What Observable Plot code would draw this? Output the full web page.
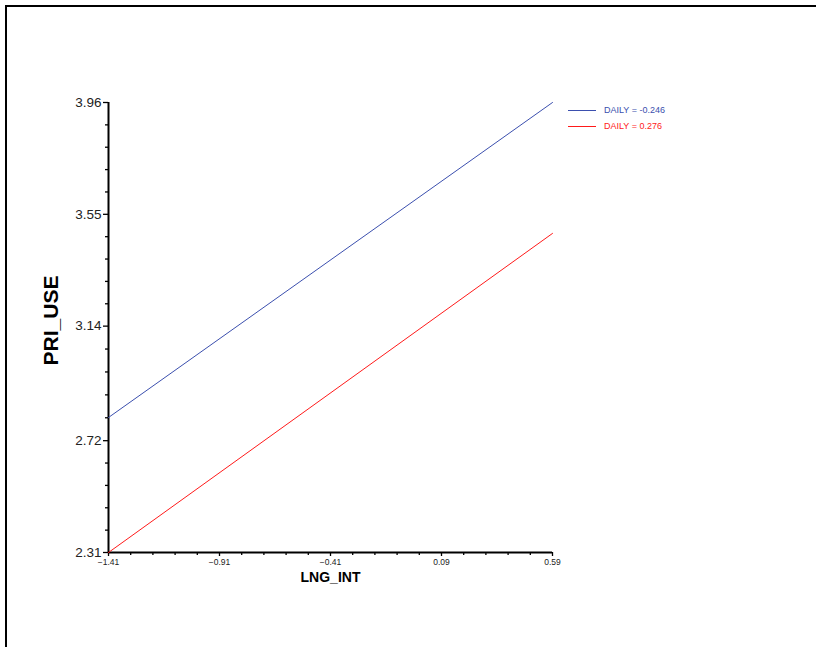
<!DOCTYPE html>
<html>
<head>
<meta charset="utf-8">
<script src="https://cdn.jsdelivr.net/npm/d3@7"></script>
<script src="https://cdn.jsdelivr.net/npm/@observablehq/plot@0.6"></script>
<style>
  html, body { margin: 0; padding: 0; background: #fff; font-family: "Liberation Sans", Arial, sans-serif; overflow: hidden; }
  #wrap { position: relative; width: 816px; height: 647px; overflow: hidden; }
  #frame { position: absolute; left: 5px; top: 5px; width: 900px; height: 700px;
           border-top: 2px solid #000; border-left: 2px solid #000; box-sizing: border-box; }
  #chart { position: absolute; left: 0; top: 0; }
  #legend { position: absolute; left: 568px; top: 102px; font-size: 9px; line-height: 16px; }
  #legend .row { display: flex; align-items: center; white-space: nowrap; }
  #legend .sw { display: inline-block; width: 28px; height: 0; border-top: 1px solid; margin-right: 8px; }
</style>
</head>
<body>
<div id="wrap">
  <div id="frame"></div>
  <div id="chart"></div>
  <div id="legend"></div>
</div>
<script>
// Data
const seriesNames = ["DAILY = -0.246", "DAILY = 0.276"];
const seriesColors = ["#3b4fae", "#ff1a1a"];
const lngInt = [-1.41, 0.59];
const priUseLow = [2.805, 3.96];   // DAILY = -0.246
const priUseHigh = [2.31, 3.48];   // DAILY = 0.276
const xTicks = [-1.41, -0.91, -0.41, 0.09, 0.59];
const yTicks = [2.31, 2.72, 3.14, 3.55, 3.96];
const xLabel = "LNG_INT";
const yLabel = "PRI_USE";

const seriesValues = [priUseLow, priUseHigh];
const rows = [];
seriesNames.forEach((name, i) => {
  lngInt.forEach((x, j) => rows.push({series: name, x, y: seriesValues[i][j]}));
});

function minor(ticks) {
  const out = [];
  for (let i = 0; i < ticks.length - 1; i++) {
    const a = ticks[i], b = ticks[i + 1];
    for (let k = 1; k < 5; k++) out.push(a + (b - a) * k / 5);
  }
  return out;
}

const chart = Plot.plot({
  width: 816,
  height: 647,
  marginLeft: 108,
  marginRight: 264,
  marginTop: 102,
  marginBottom: 95,
  style: { fontFamily: "'Liberation Sans', Arial, sans-serif", background: "transparent", color: "#000" },
  x: { domain: [-1.41, 0.59] },
  y: { domain: [2.31, 3.96] },
  color: { domain: seriesNames, range: seriesColors },
  marks: [
    Plot.axisX({ ticks: xTicks, tickSize: 4, tickPadding: 2, fontSize: 8.5, label: null,
                 tickFormat: d3.format(".2f"), strokeWidth: 1.3, fill: "#222" }),
    Plot.axisX({ ticks: minor(xTicks), tickSize: 3, text: null, label: null, strokeWidth: 1.3 }),
    Plot.axisY({ ticks: yTicks, tickSize: 5, tickPadding: 2, fontSize: 13.5, label: null,
                 tickFormat: d3.format(".2f"), strokeWidth: 1.3, fill: "#222" }),
    Plot.axisY({ ticks: minor(yTicks), tickSize: 3, text: null, label: null, strokeWidth: 1.3 }),
    Plot.ruleX([-1.41], { stroke: "#000", strokeWidth: 2 }),
    Plot.ruleY([2.31], { stroke: "#000", strokeWidth: 2 }),
    Plot.line(rows, { x: "x", y: "y", z: "series", stroke: "series", strokeWidth: 1 }),
    Plot.text([xLabel], { frameAnchor: "bottom", textAnchor: "middle", dy: 29, text: d => d, fontSize: 14, fontWeight: "bold", fill: "#000" }),
    Plot.text([yLabel], { frameAnchor: "left", textAnchor: "middle", dx: -57, dy: -7, text: d => d, fontSize: 21, fontWeight: "bold", rotate: -90, fill: "#000" })
  ]
});
document.getElementById("chart").appendChild(chart);

const legend = document.getElementById("legend");
seriesNames.forEach((name, i) => {
  const row = document.createElement("div");
  row.className = "row";
  row.style.color = seriesColors[i];
  const sw = document.createElement("span");
  sw.className = "sw";
  sw.style.borderTopColor = seriesColors[i];
  row.appendChild(sw);
  row.appendChild(document.createTextNode(name));
  legend.appendChild(row);
});
</script>
</body>
</html>
